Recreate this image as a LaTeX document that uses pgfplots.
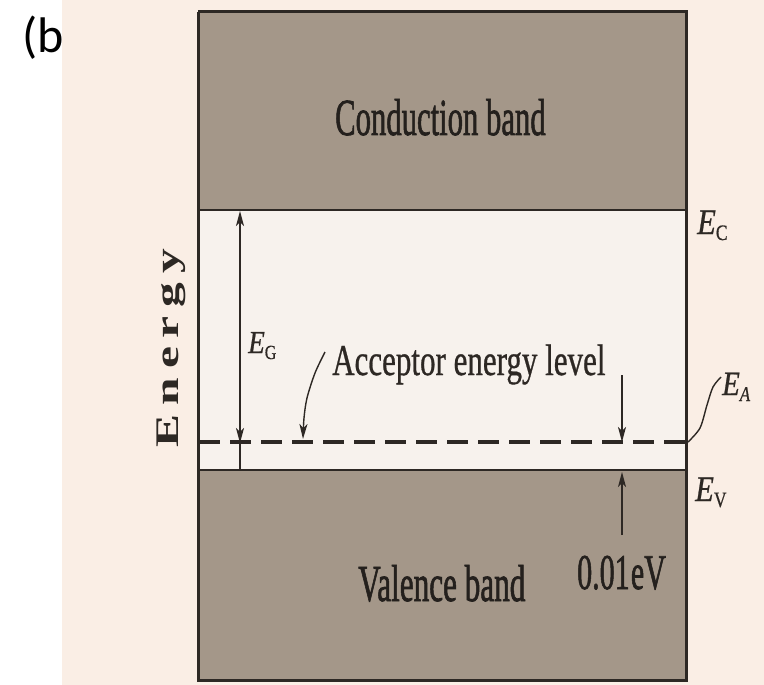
\documentclass[border=0pt]{standalone}
\usepackage{fontspec}
\setmainfont{Liberation Serif}
\newfontfamily\heavy{Liberation Serif}[FakeBold=1.6]
\newfontfamily\medium{Liberation Serif}[FakeBold=0.8]
\newfontfamily\sansb{Carlito}
\usepackage{pgfplots}
\pgfplotsset{compat=1.18}
\usetikzlibrary{arrows.meta}
\definecolor{cream}{RGB}{250,238,229}
\definecolor{band}{RGB}{164,151,137}
\definecolor{gapc}{RGB}{247,242,237}
\definecolor{ink}{RGB}{45,40,36}
\newcommand{\sx}[2]{\scalebox{#1}[1]{#2}}
\newcommand{\fs}[1]{\fontsize{#1}{#1}\selectfont}
\begin{document}
\begin{tikzpicture}
\begin{axis}[width=764pt,height=685pt,scale only axis,
  xmin=0,xmax=764,ymin=0,ymax=685,y dir=reverse,hide axis,clip=false]
% page background (fixes the picture's extent)
\addplot[draw=none,fill=white] coordinates {(0,0)(764,0)(764,685)(0,685)(0,0)};
% (b label, partly covered by the page area
\node[anchor=base west,inner sep=0pt] at (axis cs:22,53) {\sansb\fs{50}(b};
\addplot[draw=none,fill=cream] coordinates {(62,0)(764,0)(764,685)(62,685)(62,0)};
% bands
\addplot[draw=none,fill=band] coordinates {(198,12)(686,12)(686,210)(198,210)(198,12)};
\addplot[draw=none,fill=gapc] coordinates {(198,210)(686,210)(686,470)(198,470)(198,210)};
\addplot[draw=none,fill=band] coordinates {(198,470)(686,470)(686,680)(198,680)(198,470)};
% box
\addplot[ink,line width=3pt] coordinates {(198,12)(686,12)(686,680)(198,680)(198,12)};
% band edges
\addplot[ink,line width=2.8pt] coordinates {(198,210)(686,210)};
\addplot[ink,line width=2.8pt] coordinates {(198,470)(686,470)};
% acceptor level
\addplot[ink,line width=3.4pt,dash pattern=on 21pt off 10pt] coordinates {(199,442)(686,442)};
% E_G arrow
\addplot[ink,line width=1.1pt,{Stealth[length=15pt,width=8pt,inset=4pt]}-{Stealth[length=15pt,width=8pt,inset=4pt]}] coordinates {(240,211)(240,443)};
\addplot[ink,line width=1.1pt] coordinates {(240,443)(240,470)};
% 0.01 eV arrows
\addplot[ink,line width=1.1pt,-{Stealth[length=15pt,width=8pt,inset=4pt]}] coordinates {(622,375)(622,442)};
\addplot[ink,line width=1.1pt,-{Stealth[length=15pt,width=8pt,inset=4pt]}] coordinates {(622,535)(622,472)};
% acceptor leader
\addplot[ink,line width=1.4pt,smooth,-{Stealth[length=15pt,width=8pt,inset=4pt]}] coordinates {(325,352)(315,373)(307,398)(304,418)(303,439)};
% E_A leader
\addplot[ink,line width=1.4pt,smooth] coordinates {(688,442)(700,428)(707,405)(713,387)(721,377)};
% texts
\node[anchor=base west,inner sep=0pt,text=ink!80!black] at (axis cs:335,135) {\heavy\fs{52}\sx{0.59}{Conduction band}};
\node[anchor=base west,inner sep=0pt,text=ink!80!black] at (axis cs:358,601) {\heavy\fs{52}\sx{0.60}{Valence band}};
\node[anchor=base west,inner sep=0pt,text=ink] at (axis cs:332,375) {\medium\fs{44}\sx{0.705}{Acceptor energy level}};
\node[anchor=base west,inner sep=0pt,text=ink!80!black] at (axis cs:577,589) {\heavy\fs{50}\sx{0.6}{0.01\kern2pt eV}};
\node[anchor=base,inner sep=0pt,rotate=90,text=ink] at (axis cs:178,348) {\fs{33}\bfseries\sx{1.5}{E\kern6pt n\kern6pt e\kern6pt r\kern6pt g\kern6pt y}};
% E labels
\node[anchor=base west,inner sep=0pt,text=ink] at (axis cs:697,234) {\medium\fs{36}\sx{0.85}{\itshape E}\raisebox{-6pt}{\fs{22}\sx{0.8}{C}}};
\node[anchor=base west,inner sep=0pt,text=ink] at (axis cs:722,395) {\medium\fs{34}\sx{0.85}{\itshape E}\raisebox{-6pt}{\fs{21}\sx{0.8}{\itshape A}}};
\node[anchor=base west,inner sep=0pt,text=ink] at (axis cs:695,501) {\medium\fs{36}\sx{0.85}{\itshape E}\raisebox{-6pt}{\fs{22}\sx{0.8}{V}}};
\node[anchor=base west,inner sep=0pt,text=ink] at (axis cs:248,353) {\medium\fs{32}\sx{0.85}{\itshape E}\raisebox{-6pt}{\fs{20}\sx{0.8}{G}}};
\end{axis}
\end{tikzpicture}
\end{document}
